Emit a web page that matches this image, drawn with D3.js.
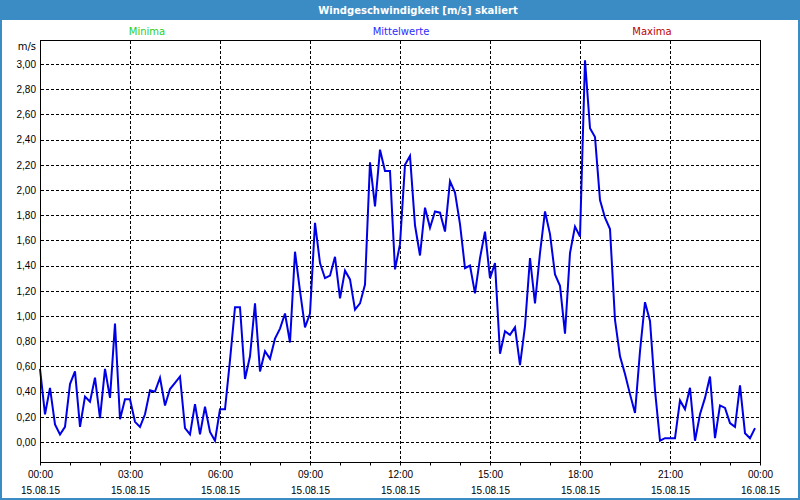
<!DOCTYPE html>
<html>
<head>
<meta charset="utf-8">
<script src="https://cdn.jsdelivr.net/npm/d3@7"></script>
<style>
  body { margin: 0; background: #fff; }
  svg { display: block; font-family: "DejaVu Sans", Verdana, sans-serif; }
</style>
</head>
<body>
<svg id="chart" width="800" height="500"></svg>
<script>
// Mittelwerte, alle 10 Minuten ab 15.08.15 00:00
const speeds = [
  0.58, 0.22, 0.43, 0.14, 0.06, 0.12, 0.46, 0.56, 0.12, 0.36, 0.32, 0.51,
  0.19, 0.58, 0.35, 0.94, 0.18, 0.34, 0.34, 0.16, 0.12, 0.22, 0.41, 0.40,
  0.51, 0.29, 0.42, 0.47, 0.52, 0.11, 0.06, 0.30, 0.06, 0.28, 0.08, 0.01,
  0.26, 0.26, 0.65, 1.07, 1.07, 0.50, 0.68, 1.10, 0.56, 0.72, 0.66, 0.82,
  0.90, 1.02, 0.79, 1.51, 1.20, 0.91, 1.02, 1.74, 1.42, 1.30, 1.32, 1.47,
  1.14, 1.36, 1.29, 1.05, 1.10, 1.25, 2.22, 1.87, 2.32, 2.15, 2.15, 1.37,
  1.57, 2.20, 2.27, 1.72, 1.48, 1.86, 1.70, 1.83, 1.82, 1.67, 2.07, 1.98,
  1.73, 1.38, 1.40, 1.18, 1.46, 1.67, 1.30, 1.42, 0.70, 0.88, 0.85, 0.91,
  0.61, 0.92, 1.46, 1.10, 1.50, 1.83, 1.65, 1.33, 1.24, 0.86, 1.50, 1.71,
  1.63, 3.03, 2.49, 2.42, 1.92, 1.78, 1.69, 0.97, 0.68, 0.54, 0.38, 0.23,
  0.72, 1.11, 0.96, 0.41, 0.01, 0.03, 0.03, 0.03, 0.33, 0.26, 0.43, 0.01,
  0.22, 0.35, 0.52, 0.03, 0.29, 0.27, 0.15, 0.12, 0.45, 0.07, 0.03, 0.11
];
const startTime = new Date(2015, 7, 15, 0, 0);
const endTime = new Date(2015, 7, 16, 0, 0);
const stepMinutes = 10;

const yTicks = [0, 0.2, 0.4, 0.6, 0.8, 1.0, 1.2, 1.4, 1.6, 1.8, 2.0, 2.2, 2.4, 2.6, 2.8, 3.0];
const xTickTimes = ["00:00", "03:00", "06:00", "09:00", "12:00", "15:00", "18:00", "21:00", "00:00"];
const xTickDates = ["15.08.15", "15.08.15", "15.08.15", "15.08.15", "15.08.15", "15.08.15", "15.08.15", "15.08.15", "16.08.15"];
const legendNames = ["Minima", "Mittelwerte", "Maxima"];
const legendColors = ["#1fd01f", "#2b2bff", "#c00000"];

const title = "Windgeschwindigkeit [m/s] skaliert";
const unit = "m/s";

const W = 800, H = 500;
const plotLeft = 40, plotRight = 760, plotTop = 40, plotBottom = 462;
const barColor = "#3b8cc4";

const svg = d3.select("#chart");

svg.append("rect").attr("width", W).attr("height", H).attr("fill", barColor);
svg.append("rect").attr("x", 2).attr("y", 20).attr("width", W - 4).attr("height", H - 22).attr("fill", "#fff");

svg.append("text")
  .attr("x", 418).attr("y", 14)
  .attr("text-anchor", "middle")
  .attr("fill", "#fff")
  .attr("font-weight", "bold")
  .attr("font-size", "10px")
  .text(title);

// legend
const legendX = [147, 401, 652];
svg.selectAll(".legend")
  .data(legendNames)
  .enter().append("text")
  .attr("class", "legend")
  .attr("x", (d, i) => legendX[i])
  .attr("y", 35)
  .attr("text-anchor", "middle")
  .attr("font-size", "10px")
  .attr("fill", (d, i) => legendColors[i])
  .text(d => d);

const x = d3.scaleTime().domain([startTime, endTime]).range([plotLeft, plotRight]);
const y = d3.scaleLinear().domain([-20 / 126, 3 + 24 / 126]).range([plotBottom, plotTop]);

const points = speeds.map((v, i) => ({ t: d3.timeMinute.offset(startTime, i * stepMinutes), v: v }));

// grid
const grid = svg.append("g").attr("stroke", "#000").attr("stroke-width", 1).attr("stroke-dasharray", "3,2");
grid.selectAll(".hgrid")
  .data(yTicks)
  .enter().append("line")
  .attr("x1", plotLeft + 1).attr("x2", plotRight)
  .attr("y1", d => Math.round(y(d)) + 0.5)
  .attr("y2", d => Math.round(y(d)) + 0.5);

const majorTimes = d3.timeHour.every(3).range(startTime, d3.timeMinute.offset(endTime, 1));
grid.selectAll(".vgrid")
  .data(majorTimes.slice(1, -1))
  .enter().append("line")
  .attr("x1", d => Math.round(x(d)) + 0.5)
  .attr("x2", d => Math.round(x(d)) + 0.5)
  .attr("y1", plotTop + 1).attr("y2", plotBottom);

// line
const line = d3.line().x(d => x(d.t)).y(d => y(d.v));
svg.append("path")
  .datum(points)
  .attr("fill", "none")
  .attr("stroke", "#0000e6")
  .attr("stroke-width", 2)
  .attr("d", line);

// frame
svg.append("rect")
  .attr("x", plotLeft + 0.5).attr("y", plotTop + 0.5)
  .attr("width", plotRight - plotLeft).attr("height", plotBottom - plotTop)
  .attr("fill", "none").attr("stroke", "#000");

// y axis
const fmt = d3.formatLocale({ decimal: ",", thousands: ".", grouping: [3], currency: ["", "€"] }).format(".2f");
const yAxis = svg.append("g")
  .attr("transform", `translate(${plotLeft},0)`)
  .call(d3.axisLeft(y).tickValues(yTicks).tickSize(0).tickPadding(4).tickFormat(fmt));
yAxis.select(".domain").remove();
yAxis.selectAll("text").attr("font-size", "10px").attr("font-family", null).attr("fill", "#000");

svg.append("text")
  .attr("x", 36).attr("y", 50)
  .attr("text-anchor", "end")
  .attr("font-size", "10px")
  .text(unit);

// x axis: hourly minor ticks
const xMinor = svg.append("g")
  .attr("transform", `translate(0,${plotBottom + 0.5})`)
  .call(d3.axisBottom(x).ticks(d3.timeHour.every(1)).tickSize(3).tickSizeOuter(0).tickFormat(""));
xMinor.select(".domain").remove();
xMinor.selectAll("line").attr("stroke", "#000");

const xMajor = svg.append("g")
  .attr("transform", `translate(0,${plotBottom})`)
  .call(d3.axisBottom(x).tickValues(majorTimes).tickSize(0).tickPadding(0).tickFormat(""));
xMajor.select(".domain").remove();
xMajor.selectAll(".tick").each(function (d, i) {
  const t = d3.select(this).append("text")
    .attr("text-anchor", "middle")
    .attr("font-size", "10px")
    .attr("fill", "#000");
  t.append("tspan").attr("x", 0).attr("y", 16).text(xTickTimes[i]);
  t.append("tspan").attr("x", 0).attr("y", 32).text(xTickDates[i]);
});
</script>
</body>
</html>
